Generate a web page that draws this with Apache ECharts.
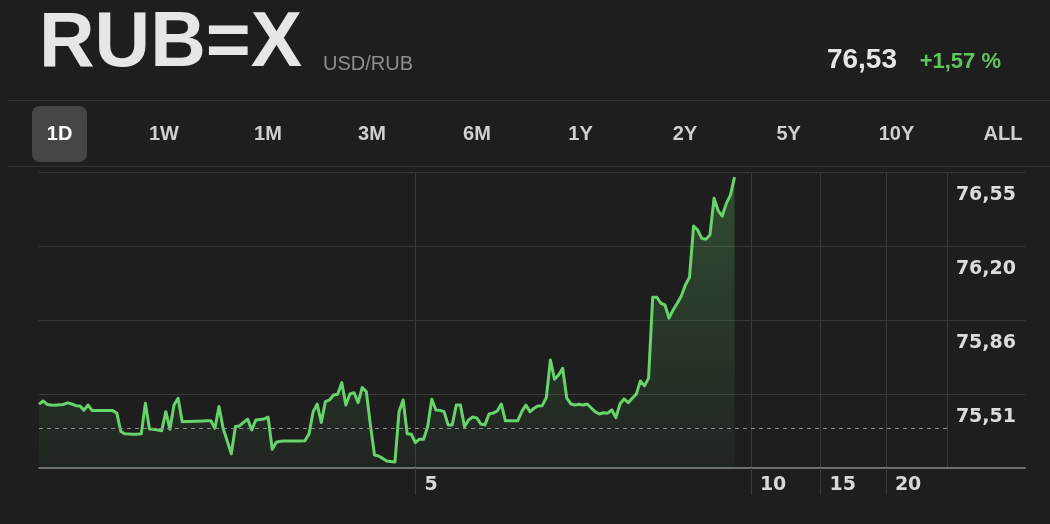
<!DOCTYPE html>
<html>
<head>
<meta charset="utf-8">
<script src="https://cdn.jsdelivr.net/npm/echarts@6/dist/echarts.min.js"></script>
<style>
html,body{margin:0;padding:0;background:#1e1e1e;}
#c{width:1050px;height:524px;}
</style>
</head>
<body>
<div id="c"></div>
<script>
// ---- data ----
const symbolName = 'RUB=X';
const pairName = 'USD/RUB';
const lastPrice = '76,53';
const changePct = '+1,57 %';
const rangeTabs = ['1D', '1W', '1M', '3M', '6M', '1Y', '2Y', '5Y', '10Y', 'ALL'];
const activeTab = '1D';

const prices = [
  75.461, 75.476, 75.460, 75.457, 75.456, 75.458, 75.460, 75.467, 75.462, 75.454,
  75.453, 75.433, 75.457, 75.431, 75.431, 75.431, 75.431, 75.431, 75.431, 75.420,
  75.333, 75.322, 75.321, 75.320, 75.320, 75.322, 75.465, 75.345, 75.344, 75.340,
  75.337, 75.426, 75.344, 75.457, 75.489, 75.379, 75.380, 75.380, 75.381, 75.381,
  75.382, 75.383, 75.383, 75.348, 75.450, 75.348, 75.289, 75.228, 75.356, 75.359,
  75.376, 75.391, 75.340, 75.387, 75.389, 75.392, 75.400, 75.250, 75.283, 75.287,
  75.288, 75.288, 75.289, 75.289, 75.289, 75.290, 75.322, 75.426, 75.461, 75.375,
  75.473, 75.481, 75.504, 75.508, 75.562, 75.457, 75.509, 75.515, 75.468, 75.539,
  75.520, 75.364, 75.223, 75.218, 75.207, 75.195, 75.192, 75.190, 75.426, 75.481,
  75.322, 75.320, 75.281, 75.297, 75.297, 75.356, 75.484, 75.434, 75.432, 75.426,
  75.364, 75.364, 75.457, 75.457, 75.356, 75.387, 75.401, 75.397, 75.368, 75.364,
  75.415, 75.419, 75.429, 75.462, 75.383, 75.383, 75.383, 75.383, 75.426, 75.457,
  75.426, 75.442, 75.453, 75.454, 75.492, 75.668, 75.578, 75.598, 75.629, 75.489,
  75.462, 75.457, 75.461, 75.457, 75.462, 75.443, 75.425, 75.415, 75.421, 75.419,
  75.434, 75.398, 75.462, 75.486, 75.468, 75.489, 75.508, 75.570, 75.547, 75.583,
  75.962, 75.962, 75.934, 75.926, 75.864, 75.903, 75.934, 75.968, 76.020, 76.056,
  76.296, 76.277, 76.238, 76.234, 76.254, 76.426, 76.368, 76.343, 76.402, 76.441,
  76.525
];
const previousClose = 75.347;

const slotCount = 242;          // time slots on the x axis
const sessionEndIndex = 222;    // end of the trading-day area
const xTickIndex = [92, 174, 191, 207];
const xTickLabels = ['5', '10', '15', '20'];
const yTickValues = [75.509, 75.856, 76.203, 76.549];
const yTickLabels = ['75,51', '75,86', '76,20', '76,55'];
const yMin = 75.162;
const yMax = 76.549;

// ---- chart ----
const categories = Array.from({length: slotCount}, (_, i) => String(i));
const chart = echarts.init(document.getElementById('c'), null, {renderer: 'canvas'});

const gridColor = '#3a3a3a';
const tabCenters = [59.6, 164, 268, 372, 477, 580.5, 685, 788.7, 896.5, 1003];
const sansFamily = '"Liberation Sans", Arial, sans-serif';

function txt(x, y, text, fill, size, weight, align) {
  return {type: 'text', x: x, y: y, style: {
    text: text, fill: fill, fontSize: size, fontWeight: weight, fontFamily: sansFamily,
    align: align, verticalAlign: 'middle'}};
}

const graphics = [
  txt(39, 45, symbolName, '#e6e6e6', 77, 'bold', 'left'),
  txt(323, 64, pairName, '#8e8e8e', 20, 'normal', 'left'),
  txt(897, 60, lastPrice, '#e6e6e6', 28, 'bold', 'right'),
  txt(1001, 62, changePct, '#5dc75d', 22, 'bold', 'right'),
  {type: 'line', shape: {x1: 8, y1: 100.5, x2: 1050, y2: 100.5}, style: {stroke: '#303030', lineWidth: 1}},
  {type: 'line', shape: {x1: 8, y1: 166.5, x2: 1050, y2: 166.5}, style: {stroke: '#303030', lineWidth: 1}},
  {type: 'rect', shape: {x: 32, y: 106, width: 55, height: 56, r: 8}, style: {fill: '#464646'}}
];
rangeTabs.forEach((t, i) => {
  graphics.push(txt(tabCenters[i], 134.5, t, t === activeTab ? '#ffffff' : '#d0d0d0', 20, 'bold', 'center'));
});

const isXTick = (idx) => xTickIndex.indexOf(idx) >= 0;

chart.setOption({
  backgroundColor: '#1e1e1e',
  animation: false,
  graphic: graphics,
  grid: {left: 39, right: 25, top: 172, bottom: 56, containLabel: false},
  xAxis: {
    type: 'category',
    data: categories,
    boundaryGap: false,
    axisLine: {show: true, lineStyle: {color: '#8a8a8a', width: 1.5}},
    axisTick: {show: true, interval: (idx) => isXTick(idx), length: 27, lineStyle: {color: gridColor, width: 1}},
    axisLabel: {
      show: true, interval: (idx) => isXTick(idx),
      formatter: (val, idx) => { const k = xTickIndex.indexOf(idx); return k >= 0 ? xTickLabels[k] : ''; },
      color: '#d8d8d8', fontFamily: '"DejaVu Sans", sans-serif', fontWeight: 'bold', fontSize: 19,
      align: 'left', padding: [0, 0, 0, 9], margin: 8
    },
    splitLine: {show: true, interval: (idx) => isXTick(idx) || idx === sessionEndIndex, lineStyle: {color: gridColor, width: 1}}
  },
  yAxis: {
    type: 'value',
    position: 'right',
    min: yMin,
    max: yMax,
    axisLine: {show: false},
    axisTick: {show: false, customValues: yTickValues},
    axisLabel: {
      show: true, inside: true, customValues: yTickValues, margin: 9,
      formatter: (v) => { let best = 0; yTickValues.forEach((t, i) => { if (Math.abs(t - v) < Math.abs(yTickValues[best] - v)) best = i; }); return yTickLabels[best]; },
      color: '#dcdcdc', fontFamily: '"DejaVu Sans", sans-serif', fontWeight: 'bold', fontSize: 19,
      verticalAlign: 'top', padding: [14, 0, 0, 0]
    },
    splitLine: {show: true, lineStyle: {color: gridColor, width: 1}}
  },
  series: [{
    type: 'line',
    data: prices,
    showSymbol: false,
    symbol: 'none',
    lineStyle: {color: '#66d46a', width: 3, join: 'round'},
    areaStyle: {
      origin: 'start',
      color: new echarts.graphic.LinearGradient(0, 0, 0, 1, [
        {offset: 0, color: 'rgba(102,212,106,0.36)'},
        {offset: 1, color: 'rgba(102,212,106,0.05)'}
      ])
    },
    markLine: {
      silent: true,
      symbol: 'none',
      label: {show: false},
      lineStyle: {color: '#8a8a8a', type: [4, 4], width: 1},
      data: [[{coord: [0, previousClose]}, {coord: [sessionEndIndex, previousClose]}]]
    }
  }]
});
</script>
</body>
</html>
